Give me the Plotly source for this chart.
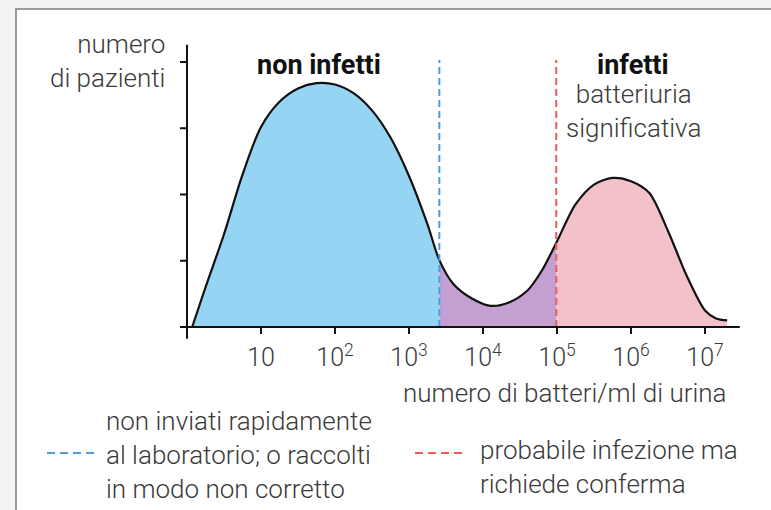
import plotly.graph_objects as go

# ---------------- data ----------------
# x = log10(numero di batteri/ml), y = numero di pazienti (relative units)
log_batteri = [0.07, 0.25, 0.50, 0.75, 1.00, 1.25, 1.50, 1.75, 2.00, 2.25, 2.50, 2.75,
               3.00, 3.25, 3.41, 3.60, 3.85, 4.10, 4.35, 4.60, 4.80, 4.99, 5.25, 5.50,
               5.75, 6.00, 6.25, 6.50, 6.75, 7.00, 7.15, 7.30]
pazienti = [0.00, 0.60, 1.40, 2.30, 3.02, 3.40, 3.60, 3.68, 3.66, 3.53, 3.27, 2.86,
            2.28, 1.55, 1.01, 0.65, 0.43, 0.32, 0.37, 0.55, 0.86, 1.27, 1.85, 2.15,
            2.25, 2.20, 2.02, 1.45, 0.78, 0.25, 0.13, 0.10]
soglia_blu = 3.41     # contaminazione
soglia_rossa = 4.99   # 10^5
x_tick_vals = [1, 2, 3, 4, 5, 6, 7]
x_tick_text = ["10", "10<sup>2</sup>", "10<sup>3</sup>", "10<sup>4</sup>",
               "10<sup>5</sup>", "10<sup>6</sup>", "10<sup>7</sup>"]
y_tick_vals = [0, 1, 2, 3, 4]

# ---------------- layout geometry ----------------
W, H = 771, 510
ML, MR, MT, MB = 172, 22, 36, 170
PW, PH = W - ML - MR, H - MT - MB
PX_PER_X = 74.0
PX_PER_Y = 66.25
X0_PX, Y0_PX = 187, 327
xr = [-(X0_PX - ML) / PX_PER_X, (W - MR - X0_PX) / PX_PER_X]
yr = [-(H - MB - Y0_PX) / PX_PER_Y, (Y0_PX - MT) / PX_PER_Y]


def px(x):
    return (x - ML) / PW


def py(y):
    return (H - MB - y) / PH


FONT = "Roboto, 'Helvetica Neue', Arial, sans-serif"
TXT = "#3a3a3a"
C_BLU_FILL = "#95d4f3"
C_VIOLA = "#c4a0d2"
C_ROSA = "#f2c1c9"
C_BLU_LINE = "#4a9de2"
C_RED_LINE = "#f05a5a"

i1 = log_batteri.index(soglia_blu)
i2 = log_batteri.index(soglia_rossa)

fig = go.Figure()
segs = [(0, i1 + 1, C_BLU_FILL), (i1, i2 + 1, C_VIOLA), (i2, len(log_batteri), C_ROSA)]
for a, b, col in segs:
    fig.add_trace(go.Scatter(x=log_batteri[a:b], y=pazienti[a:b], mode="lines",
                             line=dict(shape="spline", smoothing=0.8, width=0, color=col),
                             fill="tozeroy", fillcolor=col, hoverinfo="skip",
                             showlegend=False))
fig.add_trace(go.Scatter(x=log_batteri, y=pazienti, mode="lines",
                         line=dict(shape="spline", smoothing=0.8, width=2.2, color="#111"),
                         showlegend=False))

shapes = []
# frame
shapes.append(dict(type="rect", xref="paper", yref="paper",
                   x0=px(16), x1=px(800), y0=py(9), y1=py(540),
                   fillcolor="white", line=dict(color="#9a9a9a", width=2), layer="below"))
# threshold lines
for xv, col in [(soglia_blu, C_BLU_LINE), (soglia_rossa, C_RED_LINE)]:
    shapes.append(dict(type="line", xref="x", yref="y", x0=xv, x1=xv, y0=0, y1=4.03,
                       line=dict(color=col, width=2, dash="7px,4px")))
# axes
shapes.append(dict(type="line", xref="x", yref="y", x0=-0.095, x1=7.47, y0=0, y1=0,
                   line=dict(color="#111", width=2)))
shapes.append(dict(type="line", xref="x", yref="y", x0=0, x1=0, y0=yr[0] + 0.02, y1=4.26,
                   line=dict(color="#111", width=2)))
for v in x_tick_vals:
    shapes.append(dict(type="line", xref="x", yref="y", x0=v, x1=v, y0=0, y1=-0.105,
                       line=dict(color="#111", width=2)))
for v in y_tick_vals:
    shapes.append(dict(type="line", xref="x", yref="y", x0=0, x1=-0.095, y0=v, y1=v,
                       line=dict(color="#111", width=2)))
# legend dashes
shapes.append(dict(type="line", xref="paper", yref="paper", x0=px(47), x1=px(94),
                   y0=py(453), y1=py(453), line=dict(color=C_BLU_LINE, width=2, dash="8px,5px")))
shapes.append(dict(type="line", xref="paper", yref="paper", x0=px(415), x1=px(462),
                   y0=py(453), y1=py(453), line=dict(color=C_RED_LINE, width=2, dash="8px,5px")))

ann = []


def text(s, x, y, xanchor="center", size=26, bold=False, color=TXT, align="center"):
    ann.append(dict(text=s, xref="paper", yref="paper", x=px(x), y=py(y),
                    xanchor=xanchor, yanchor="middle", showarrow=False, align=align,
                    font=dict(family=FONT, size=size, color="#111" if bold else color,
                              weight=700 if bold else 300)))


text("numero<br>di pazienti", 167, 61, xanchor="right", align="right")
text("non infetti", 319, 65, bold=True, size=27)
text("infetti", 633, 65, bold=True, size=27)
text("batteriuria<br>significativa", 633, 111)
text("numero di batteri/ml di urina", 565, 393)
text("non inviati rapidamente<br>al laboratorio; o raccolti<br>in modo non corretto",
     104, 455, xanchor="left", align="left")
text("probabile infezione ma<br>richiede conferma", 478, 467, xanchor="left", align="left")

fig.update_layout(
    width=W, height=H,
    margin=dict(l=ML, r=MR, t=MT, b=MB, pad=0),
    paper_bgcolor="#f3f3f3", plot_bgcolor="rgba(0,0,0,0)",
    font=dict(family=FONT, size=24, color=TXT),
    shapes=shapes, annotations=ann,
    xaxis=dict(range=xr, showgrid=False, zeroline=False, showline=False,
               tickmode="array", tickvals=x_tick_vals, ticktext=x_tick_text, ticks="",
               tickfont=dict(family=FONT, size=25, color=TXT, weight=300), fixedrange=True),
    yaxis=dict(range=yr, showgrid=False, zeroline=False, showline=False,
               showticklabels=False, ticks="", fixedrange=True),
    showlegend=False,
)
fig.write_html("out.html", config={"displayModeBar": False},
               post_script="document.body.style.margin='0';")
